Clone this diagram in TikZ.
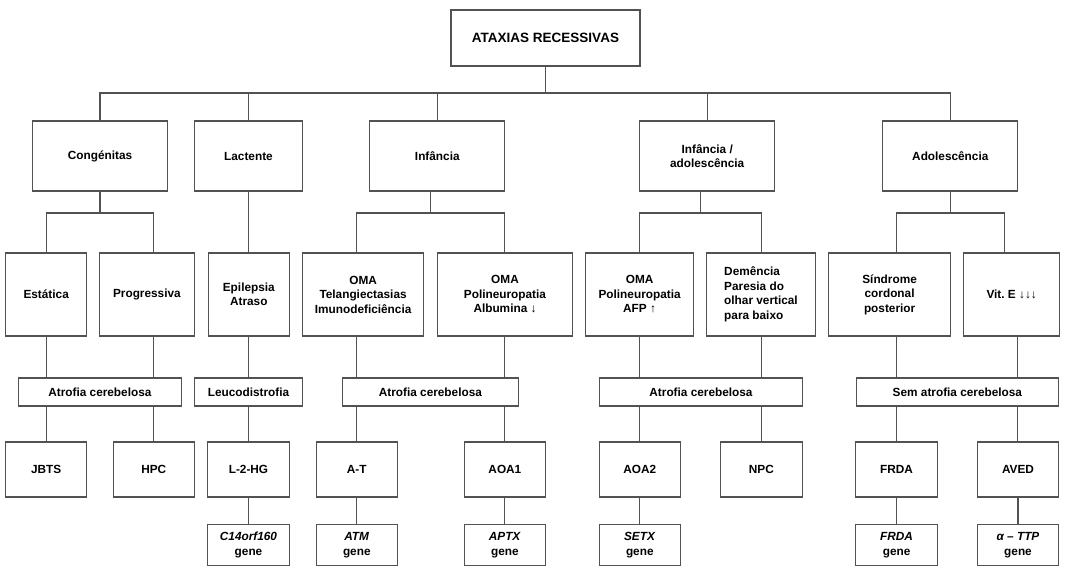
\documentclass[tikz,border=0pt]{standalone}
\usepackage{fontspec}
\setmainfont{Liberation Sans}
\usetikzlibrary{positioning,calc}
\newlength\pxu
\setlength\pxu{0.025cm}
\tikzset{
  box/.style={draw=black!68, line width=0.75pt, align=center, inner sep=1pt,
    font=\fontsize{8.4}{10.3}\selectfont\bfseries},
  wd/.style={minimum width=#1\pxu},
  ht/.style={minimum height=#1\pxu},
  title/.style={font=\fontsize{9.6}{11.5}\selectfont\bfseries},
  row1/.style={box, ht=70},
  row2/.style={box, ht=83},
  strip/.style={box, ht=28},
  row4/.style={box, wd=81.3, ht=55},
  gene/.style={box, wd=81.3, ht=41},
  link/.style={draw=black!68, line width=0.75pt}
}

\begin{document}
\begin{tikzpicture}[x=0.025cm, y=-0.025cm]
\useasboundingbox (0,0) rectangle (1074,578);

% colunas das ligacoes
\coordinate (c1) at (46.1,0);
\coordinate (c2) at (153.9,0);
\coordinate (c3) at (248.3,0);
\coordinate (c4) at (356.4,0);
\coordinate (c5) at (504.8,0);
\coordinate (c6) at (639.8,0);
\coordinate (c7) at (761.4,0);
\coordinate (c8) at (896.3,0);
\coordinate (c9) at (1004.2,0);
\coordinate (c10) at (1017.6,0);
\coordinate (jinf) at (430.8,0);
\coordinate (jinfad) at (700.8,0);
\coordinate (busA) at (0,93);
\coordinate (busB) at (0,213);

\node[box, title, wd=189, ht=56] (top) at (545.5,38) {ATAXIAS RECESSIVAS};

% idade de inicio
\node[row1, wd=135] (cong) at (100,156) {Congénitas};
\node[row1, wd=108.5] (lact) at (248.5,156) {Lactente};
\node[row1, wd=135] (inf) at (437.3,156) {Infância};
\node[row1, wd=135] (infad) at (707.2,156) {Infância /\\adolescência};
\node[row1, wd=135] (adol) at (950.3,156) {Adolescência};

% clinica
\node[row2, wd=81.3] (esta) at (46.2,294.5) {Estática};
\node[row2, wd=94.7] (prog) at (146.9,294.5) {Progressiva};
\node[row2, wd=81] (epil) at (248.8,294.5) {Epilepsia\\Atraso};
\node[row2, wd=121.6] (omat) at (363.1,294.5) {OMA\\Telangiectasias\\Imunodeficiência};
\node[row2, wd=135.4] (omap) at (505,294.5) {OMA\\Polineuropatia\\Albumina ↓};
\node[row2, wd=108] (omaa) at (639.6,294.5) {OMA\\Polineuropatia\\AFP ↑};
\node[row2, wd=108.3, align=left] (deme) at (761,294.5) {Demência\\Paresia do\\olhar vertical\\para baixo};
\node[row2, wd=121.6] (sind) at (889.6,294.5) {Síndrome\\cordonal\\posterior};
\node[row2, wd=96] (vite) at (1011.7,294.5) {Vit.\ E ↓↓↓};

% imagem
\node[strip, wd=162.5] (atr1) at (99.9,392) {Atrofia cerebelosa};
\node[strip, wd=108.5] (leuc) at (248.5,392) {Leucodistrofia};
\node[strip, wd=175.6] (atr2) at (430.4,392) {Atrofia cerebelosa};
\node[strip, wd=202.7] (atr3) at (701,392) {Atrofia cerebelosa};
\node[strip, wd=202.6] (sema) at (957.4,392) {Sem atrofia cerebelosa};

% doencas
\node[row4] (jbts) at (46.2,469.5) {JBTS};
\node[row4] (hpc) at (153.8,469.5) {HPC};
\node[row4] (l2hg) at (248.5,469.5) {L-2-HG};
\node[row4] (at) at (356.8,469.5) {A-T};
\node[row4] (aoa1) at (504.9,469.5) {AOA1};
\node[row4] (aoa2) at (639.8,469.5) {AOA2};
\node[row4] (npc) at (761.4,469.5) {NPC};
\node[row4] (frda) at (896.6,469.5) {FRDA};
\node[row4] (aved) at (1018,469.5) {AVED};

% genes
\node[gene] (gl2hg) at (248.5,545) {\textit{C14orf160}\\gene};
\node[gene] (gat) at (356.8,545) {\textit{ATM}\\gene};
\node[gene] (gaoa1) at (504.9,545) {\textit{APTX}\\gene};
\node[gene] (gaoa2) at (639.8,545) {\textit{SETX}\\gene};
\node[gene] (gfrda) at (896.6,545) {\textit{FRDA}\\gene};
\node[gene] (gaved) at (1018,545) {\textit{α – TTP}\\gene};

% ligacoes
\draw[link] (top.south) -- (top.south |- busA);
\draw[link] (cong.north) -- (cong.north |- busA) -- (adol.north |- busA) -- (adol.north);
\foreach \n in {lact,inf,infad}
  \draw[link] (\n.north) -- (\n.north |- busA);

\draw[link] (cong.south) -- (cong.south |- busB);
\draw[link] (esta.north -| c1) -- (c1 |- busB) -- (c2 |- busB) -- (prog.north -| c2);
\draw[link] (lact.south -| c3) -- (epil.north -| c3);
\draw[link] (inf.south -| jinf) -- (jinf |- busB);
\draw[link] (omat.north -| c4) -- (c4 |- busB) -- (c5 |- busB) -- (omap.north -| c5);
\draw[link] (infad.south -| jinfad) -- (jinfad |- busB);
\draw[link] (omaa.north -| c6) -- (c6 |- busB) -- (c7 |- busB) -- (deme.north -| c7);
\draw[link] (adol.south) -- (adol.south |- busB);
\draw[link] (sind.north -| c8) -- (c8 |- busB) -- (c9 |- busB) -- (vite.north -| c9);

\draw[link] (esta.south -| c1) -- (atr1.north -| c1);
\draw[link] (prog.south -| c2) -- (atr1.north -| c2);
\draw[link] (epil.south -| c3) -- (leuc.north -| c3);
\draw[link] (omat.south -| c4) -- (atr2.north -| c4);
\draw[link] (omap.south -| c5) -- (atr2.north -| c5);
\draw[link] (omaa.south -| c6) -- (atr3.north -| c6);
\draw[link] (deme.south -| c7) -- (atr3.north -| c7);
\draw[link] (sind.south -| c8) -- (sema.north -| c8);
\draw[link] (vite.south -| c10) -- (sema.north -| c10);

\draw[link] (atr1.south -| c1) -- (jbts.north -| c1);
\draw[link] (atr1.south -| c2) -- (hpc.north -| c2);
\draw[link] (leuc.south -| c3) -- (l2hg.north -| c3);
\draw[link] (atr2.south -| c4) -- (at.north -| c4);
\draw[link] (atr2.south -| c5) -- (aoa1.north -| c5);
\draw[link] (atr3.south -| c6) -- (aoa2.north -| c6);
\draw[link] (atr3.south -| c7) -- (npc.north -| c7);
\draw[link] (sema.south -| c8) -- (frda.north -| c8);
\draw[link] (sema.south -| c10) -- (aved.north -| c10);

\foreach \a/\b in {l2hg/gl2hg, at/gat, aoa1/gaoa1, aoa2/gaoa2, frda/gfrda, aved/gaved}
  \draw[link] (\a) -- (\b);
\end{tikzpicture}
\end{document}
